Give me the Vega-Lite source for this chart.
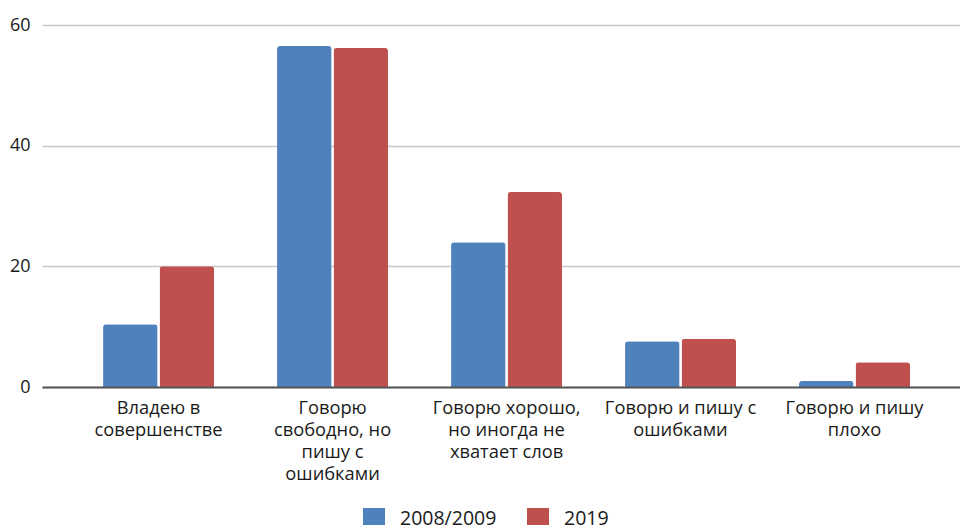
{
  "$schema": "https://vega.github.io/schema/vega-lite/v6.json",
  "width": 918,
  "height": 362,
  "autosize": {"type": "none"},
  "padding": {"left": 42, "top": 25, "right": 0, "bottom": 138},
  "background": "white",
  "config": {
    "font": "Open Sans",
    "view": {"stroke": null}
  },
  "data": {
    "values": [
      {"category": "Владею в|совершенстве", "year": "2008/2009", "value": 10.4},
      {"category": "Владею в|совершенстве", "year": "2019", "value": 20.0},
      {"category": "Говорю|свободно, но|пишу с|ошибками", "year": "2008/2009", "value": 56.5},
      {"category": "Говорю|свободно, но|пишу с|ошибками", "year": "2019", "value": 56.2},
      {"category": "Говорю хорошо,|но иногда не|хватает слов", "year": "2008/2009", "value": 24.0},
      {"category": "Говорю хорошо,|но иногда не|хватает слов", "year": "2019", "value": 32.3},
      {"category": "Говорю и пишу с|ошибками", "year": "2008/2009", "value": 7.6},
      {"category": "Говорю и пишу с|ошибками", "year": "2019", "value": 8.0},
      {"category": "Говорю и пишу|плохо", "year": "2008/2009", "value": 1.0},
      {"category": "Говорю и пишу|плохо", "year": "2019", "value": 4.1}
    ]
  },
  "mark": {"type": "bar", "cornerRadiusTopLeft": 3, "cornerRadiusTopRight": 3},
  "encoding": {
    "x": {
      "field": "category",
      "type": "nominal",
      "sort": null,
      "scale": {"paddingInner": 0.362, "paddingOuter": 0.319, "align": 0.55},
      "axis": {
        "title": null,
        "labelAngle": 0,
        "labelExpr": "split(datum.value, '|')",
        "labelFontSize": 18.3,
        "labelLineHeight": 22,
        "labelColor": "#1a1a1a",
        "labelPadding": 12,
        "ticks": false,
        "domainColor": "#555555",
        "domainWidth": 2,
        "labelLimit": 300,
        "zindex": 1
      }
    },
    "xOffset": {
      "field": "year",
      "type": "nominal",
      "scale": {"paddingInner": 0.035}
    },
    "y": {
      "field": "value",
      "type": "quantitative",
      "scale": {"domain": [0, 60], "nice": false},
      "axis": {
        "title": null,
        "values": [0, 20, 40, 60],
        "labelFontSize": 18,
        "labelColor": "#1a1a1a",
        "labelPadding": 12,
        "ticks": false,
        "domain": false,
        "gridColor": "#c8c8c8",
        "gridWidth": 1.5
      }
    },
    "color": {
      "field": "year",
      "type": "nominal",
      "scale": {"domain": ["2008/2009", "2019"], "range": ["#4f81bd", "#c0504d"]},
      "legend": {
        "title": null,
        "orient": "none",
        "legendX": 321,
        "legendY": 483,
        "direction": "horizontal",
        "symbolType": "square",
        "symbolSize": 484,
        "symbolStrokeWidth": 0,
        "labelFontSize": 19.5,
        "labelColor": "#1a1a1a",
        "labelOffset": 15,
        "columnPadding": 30
      }
    }
  }
}
